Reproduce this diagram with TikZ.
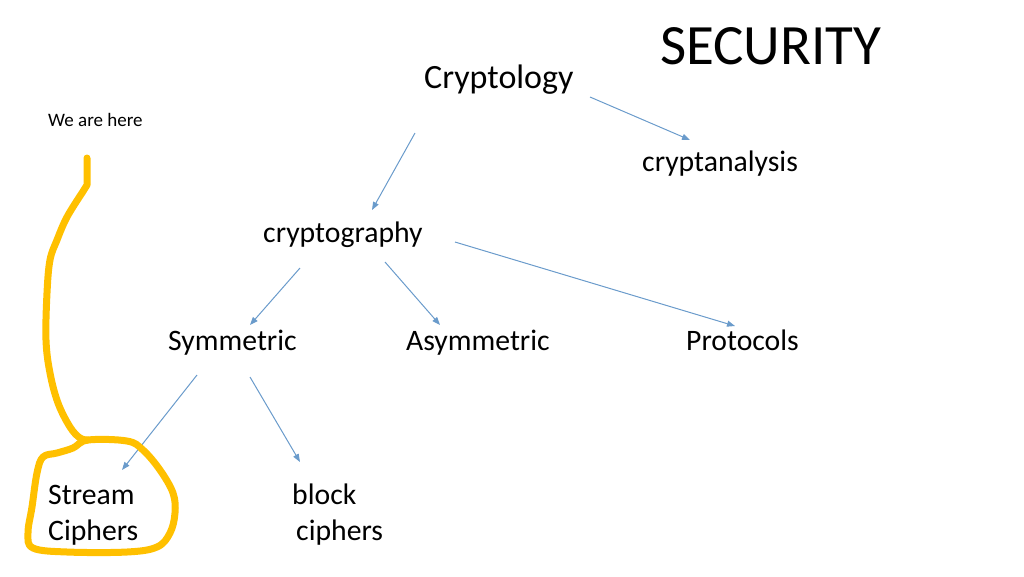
\documentclass[tikz,border=0pt]{standalone}
\usepackage{fontspec}
\setmainfont{Carlito}
\usepackage{xcolor}
\usepackage{tikz}
\usetikzlibrary{arrows.meta}
\definecolor{colorA}{HTML}{6A9BCB}
\definecolor{colorH}{HTML}{FFC000}

\begin{document}
\begin{tikzpicture}[x=1pt, y=-1pt,
        txt/.style={inner sep=0pt, anchor=base west, font=\fontsize{29.7}{36}\selectfont},
        link/.style={colorA, line width=1pt, -{Triangle[length=8pt, width=6pt]}}]
        \useasboundingbox (0,0) rectangle (1024,576);

        \node[txt, font=\fontsize{57}{60}\selectfont] (sec) at (660,64) {SECURITY};
        \node[txt, font=\fontsize{34}{36}\selectfont] (ology) at (424,88) {Cryptology};
        \node[txt, font=\fontsize{19}{22}\selectfont] (here) at (48,126) {We are here};
        \node[txt] (anal) at (642,171) {cryptanalysis};
        \node[txt] (graphy) at (263,242) {cryptography};
        \node[txt] (sym) at (168,350) {Symmetric};
        \node[txt] (asym) at (406,350) {Asymmetric};
        \node[txt] (proto) at (686,350) {Protocols};
        \node[txt, anchor=west, align=left] (stream) at (48,515) {Stream\\Ciphers};
        \node[txt, anchor=west, align=left] (block) at (292,515) {block\\\hspace{4pt}ciphers};

        \draw[link] ([shift={(166,9)}]ology.base west) -- ([shift={(48,-31)}]anal.base west);
        \draw[link] ([shift={(-9,45)}]ology.base west) -- ([shift={(109,-32)}]graphy.base west);
        \draw[link] ([shift={(37,26)}]graphy.base west) -- ([shift={(82,-25)}]sym.base west);
        \draw[link] ([shift={(122,20)}]graphy.base west) -- ([shift={(34,-25)}]asym.base west);
        \draw[link] ([shift={(192,0)}]graphy.base west) -- ([shift={(49,-24)}]proto.base west);
        \draw[link] ([shift={(29,25)}]sym.base west) -- ([shift={(74,-45)}]stream.west);
        \draw[link] ([shift={(82,27)}]sym.base west) -- ([shift={(8,-53)}]block.west);

        % yellow marker stroke
        \draw[colorH, line width=7pt, line cap=round, line join=round]
            (87,158) -- (87,185) -- (82,193)
            plot[smooth, tension=0.6] coordinates {(82,193) (67,217) (57,240) (50,260) (47,293) (46,340) (50,373) (58,403) (70,427) (80,438) (88,440)};
        \draw[colorH, line width=7pt, line cap=round, line join=round]
            plot[smooth cycle, tension=0.6] coordinates {(88,440) (127,441) (143,450) (160,470) (173,493) (175,513) (170,533) (157,547) (127,552) (67,552) (33,548) (28,533) (32,507) (37,473) (43,457) (57,453) (73,448)};
    \end{tikzpicture}
\end{document}
